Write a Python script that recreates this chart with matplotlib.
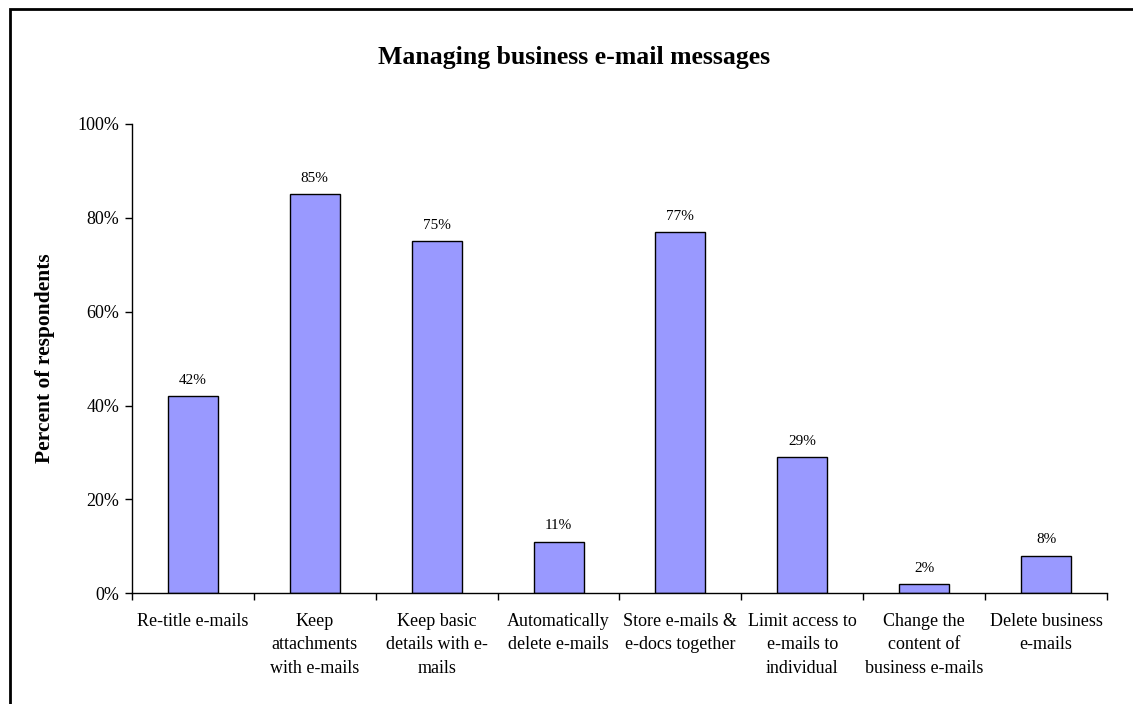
import matplotlib.pyplot as plt
from matplotlib.patches import Rectangle
from matplotlib.ticker import FixedLocator, FuncFormatter

categories = [
    "Re-title e-mails",
    "Keep\nattachments\nwith e-mails",
    "Keep basic\ndetails with e-\nmails",
    "Automatically\ndelete e-mails",
    "Store e-mails &\ne-docs together",
    "Limit access to\ne-mails to\nindividual",
    "Change the\ncontent of\nbusiness e-mails",
    "Delete business\ne-mails",
]
percents = [42, 85, 75, 11, 77, 29, 2, 8]
y_ticks = [0, 20, 40, 60, 80, 100]

plt.rcParams['font.family'] = ['Liberation Serif', 'DejaVu Serif']

fig = plt.figure(figsize=(11.33, 7.04), dpi=100)
ax = fig.add_axes([0.1165, 0.1572, 0.8605, 0.6667])

x = list(range(len(categories)))
ax.bar(x, percents, width=0.41, color='#9999FF', edgecolor='black', linewidth=1.0)

for xi, v in zip(x, percents):
    ax.text(xi, v + 2.0, f"{v}%", ha='center', va='bottom', fontsize=11)

ax.set_xlim(-0.5, len(categories) - 0.5)
ax.set_ylim(0, 100)

ax.set_yticks(y_ticks)
ax.yaxis.set_major_formatter(FuncFormatter(lambda v, p: f"{int(v)}%"))
ax.tick_params(axis='y', direction='out', length=5, width=1, labelsize=13, pad=4)

# category labels centred under bars, tick marks between categories
ax.set_xticks(x)
ax.set_xticklabels(categories, fontsize=13, linespacing=1.5, va='top')
ax.tick_params(axis='x', which='major', length=0, pad=14)
ax.xaxis.set_minor_locator(FixedLocator([i - 0.5 for i in range(len(categories) + 1)]))
ax.tick_params(axis='x', which='minor', direction='out', length=5, width=1)

for side in ['top', 'right']:
    ax.spines[side].set_visible(False)
for side in ['left', 'bottom']:
    ax.spines[side].set_linewidth(1.0)

ax.set_ylabel("Percent of respondents", fontsize=15.5, fontweight='bold')
ax.yaxis.set_label_coords(-0.079, 0.5)
fig.text(0.507, 0.919, "Managing business e-mail messages", ha='center', va='center',
         fontsize=18.5, fontweight='bold')

# chart frame, partly running off the canvas
frame = Rectangle((10 / 1133, -0.1), 1.2, (704 - 9) / 704 + 0.1, transform=fig.transFigure,
                  fill=False, edgecolor='black', linewidth=2)
fig.patches.append(frame)

fig.savefig("out.png", dpi=100)
